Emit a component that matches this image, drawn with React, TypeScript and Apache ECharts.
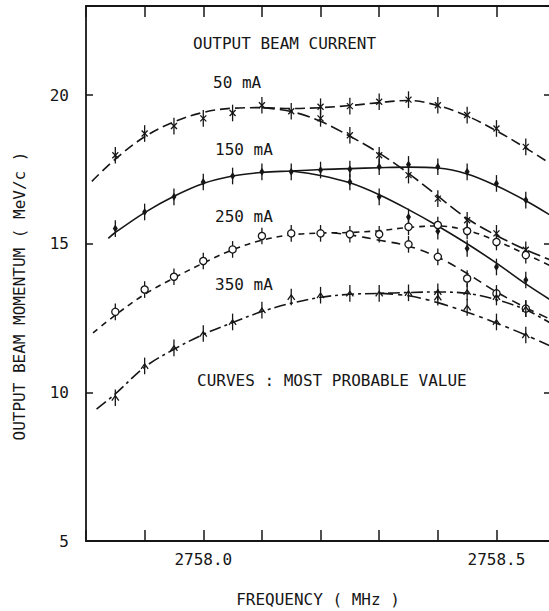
import React, { useEffect, useRef } from "react";
import * as echarts from "echarts";

// ---------- data ----------
const FREQ_POINTS = [2757.85, 2757.9, 2757.95, 2758.0, 2758.05, 2758.1, 2758.15, 2758.2, 2758.25, 2758.3, 2758.35, 2758.4, 2758.45, 2758.5, 2758.55];
const X_TICK_LABELS = ["2758.0", "2758.5"];
const Y_TICK_LABELS = [5, 10, 15, 20];

// measured points (upper branch, aligned with FREQ_POINTS)
const P50_UPPER = [17.98, 18.71, 18.96, 19.22, 19.4, 19.66, 19.46, 19.61, 19.63, 19.78, 19.85, 19.66, 19.33, 18.88, 18.26];
const P150_UPPER = [15.51, 16.07, 16.58, 17.08, 17.28, 17.42, 17.42, 17.48, 17.51, 17.59, 17.67, 17.59, 17.42, 17.03, 16.47];
const P250_UPPER = [12.71, 13.46, 13.89, 14.42, 14.81, 15.26, 15.35, 15.35, 15.32, 15.32, 15.57, 15.63, 15.43, 15.06, 14.62];
const P350_UPPER = [9.82, 10.89, 11.5, 11.98, 12.37, 12.77, 13.21, 13.27, 13.33, 13.33, 13.35, 13.38, 13.38, 13.21, 12.82];

// measured points (lower branch)
const P50_LOWER: [number, number][] = [[2758.2, 19.22], [2758.25, 18.65], [2758.3, 17.98], [2758.35, 17.31], [2758.4, 16.52], [2758.45, 15.79], [2758.5, 15.35], [2758.55, 14.8]];
const P150_LOWER: [number, number][] = [[2758.25, 17.08], [2758.3, 16.58], [2758.35, 15.9], [2758.4, 15.42], [2758.45, 14.84], [2758.5, 14.22], [2758.55, 13.78]];
const P250_LOWER: [number, number][] = [[2758.35, 14.98], [2758.4, 14.56], [2758.45, 13.83], [2758.5, 13.33], [2758.55, 12.82]];
const P350_LOWER: [number, number][] = [[2758.4, 13.2], [2758.45, 12.86], [2758.5, 12.37], [2758.55, 11.93]];

const ERROR_HALF = 0.28;

// most probable value curves
const CURVE_50_UPPER: [number, number][] = [[2757.81, 17.1], [2757.85, 17.85], [2757.9, 18.6], [2757.95, 19.1], [2758.0, 19.42], [2758.05, 19.56], [2758.1, 19.58], [2758.15, 19.55], [2758.2, 19.58], [2758.25, 19.65], [2758.3, 19.75], [2758.35, 19.82], [2758.4, 19.65], [2758.45, 19.3], [2758.5, 18.8], [2758.55, 18.22], [2758.593, 17.68]];
const CURVE_50_LOWER: [number, number][] = [[2758.1, 19.58], [2758.15, 19.45], [2758.2, 19.12], [2758.25, 18.62], [2758.3, 18.05], [2758.35, 17.37], [2758.4, 16.6], [2758.45, 15.85], [2758.5, 15.28], [2758.55, 14.8], [2758.593, 14.45]];
const CURVE_150_UPPER: [number, number][] = [[2757.838, 15.18], [2757.85, 15.38], [2757.9, 16.05], [2757.95, 16.6], [2758.0, 17.03], [2758.05, 17.28], [2758.1, 17.4], [2758.15, 17.45], [2758.2, 17.5], [2758.25, 17.53], [2758.3, 17.56], [2758.35, 17.58], [2758.4, 17.55], [2758.45, 17.35], [2758.5, 16.95], [2758.55, 16.45], [2758.593, 15.95]];
const CURVE_150_LOWER: [number, number][] = [[2758.15, 17.45], [2758.2, 17.3], [2758.25, 17.05], [2758.3, 16.65], [2758.35, 16.15], [2758.4, 15.6], [2758.45, 15.0], [2758.5, 14.35], [2758.55, 13.65], [2758.593, 13.1]];
const CURVE_250_UPPER: [number, number][] = [[2757.812, 12.0], [2757.85, 12.6], [2757.9, 13.3], [2757.95, 13.85], [2758.0, 14.35], [2758.05, 14.8], [2758.1, 15.12], [2758.15, 15.3], [2758.2, 15.36], [2758.25, 15.38], [2758.3, 15.44], [2758.35, 15.55], [2758.4, 15.6], [2758.45, 15.45], [2758.5, 15.1], [2758.55, 14.65], [2758.593, 14.25]];
const CURVE_250_LOWER: [number, number][] = [[2758.22, 15.37], [2758.25, 15.3], [2758.3, 15.12], [2758.35, 14.92], [2758.4, 14.55], [2758.45, 14.0], [2758.5, 13.38], [2758.55, 12.85], [2758.593, 12.45]];
const CURVE_350_UPPER: [number, number][] = [[2757.818, 9.44], [2757.85, 9.95], [2757.9, 10.85], [2757.95, 11.45], [2758.0, 11.95], [2758.05, 12.35], [2758.1, 12.72], [2758.15, 13.0], [2758.2, 13.2], [2758.25, 13.3], [2758.3, 13.33], [2758.35, 13.36], [2758.4, 13.38], [2758.45, 13.33], [2758.5, 13.12], [2758.55, 12.78], [2758.593, 12.32]];
const CURVE_350_LOWER: [number, number][] = [[2758.3, 13.33], [2758.35, 13.25], [2758.4, 13.02], [2758.45, 12.7], [2758.5, 12.33], [2758.55, 11.93], [2758.593, 11.55]];

const CURRENT_LABELS = ["50 mA", "150 mA", "250 mA", "350 mA"];

// ---------- style ----------
const INK = "#161616";
const FONT = "'DejaVu Sans Mono', monospace";
const FS = 16;

type MarkKind = "cross" | "diamond" | "circle" | "triangle";

function markerSeries(name: string, data: [number, number][], kind: MarkKind) {
  return {
    type: "custom",
    name,
    data,
    encode: { x: 0, y: 1 },
    z: 5,
    renderItem: (_params: any, api: any) => {
      const x = api.value(0);
      const y = api.value(1);
      const p = api.coord([x, y]);
      const t = api.coord([x, y + ERROR_HALF]);
      const b = api.coord([x, y - ERROR_HALF]);
      const children: any[] = [
        { type: "line", shape: { x1: p[0], y1: t[1], x2: p[0], y2: b[1] }, style: { stroke: INK, lineWidth: 1.3 } },
      ];
      if (kind === "cross") {
        children.push({ type: "line", shape: { x1: p[0] - 3, y1: p[1] - 3, x2: p[0] + 3, y2: p[1] + 3 }, style: { stroke: INK, lineWidth: 1.3 } });
        children.push({ type: "line", shape: { x1: p[0] - 3, y1: p[1] + 3, x2: p[0] + 3, y2: p[1] - 3 }, style: { stroke: INK, lineWidth: 1.3 } });
      } else if (kind === "diamond") {
        children.push({ type: "polygon", shape: { points: [[p[0], p[1] - 4], [p[0] + 2.5, p[1]], [p[0], p[1] + 4], [p[0] - 2.5, p[1]]] }, style: { fill: INK } });
      } else if (kind === "circle") {
        children.push({ type: "circle", shape: { cx: p[0], cy: p[1], r: 3.6 }, style: { fill: "#fff", stroke: INK, lineWidth: 1.3 } });
      } else {
        children.push({ type: "polyline", shape: { points: [[p[0] - 3.5, p[1] + 3], [p[0], p[1] - 2], [p[0] + 3.5, p[1] + 3]] }, style: { fill: "none", stroke: INK, lineWidth: 1.3 } });
      }
      return { type: "group", children };
    },
  };
}

function curveSeries(name: string, data: [number, number][], dash: any) {
  return {
    type: "line",
    name,
    data,
    smooth: 0.35,
    showSymbol: false,
    symbol: "none",
    z: 3,
    lineStyle: { color: INK, width: 1.6, type: dash },
  };
}

const zip = (vals: number[]): [number, number][] => vals.map((v, i) => [FREQ_POINTS[i], v]);

export default function App() {
  const ref = useRef<HTMLDivElement>(null);
  useEffect(() => {
    document.body.style.margin = "0";
    const chart = echarts.init(ref.current!, undefined, { renderer: "svg" });
    const xCommon = {
      type: "value",
      min: 2757.8,
      max: 2758.593,
      interval: 0.1,
      splitLine: { show: false },
      axisLine: { show: true, lineStyle: { color: INK, width: 1.8 } },
      axisTick: { show: true, inside: true, length: 11, lineStyle: { color: INK, width: 1.5 } },
    };
    const yCommon = {
      type: "value",
      min: 5,
      max: 23,
      interval: 5,
      splitLine: { show: false },
      axisLine: { show: true, lineStyle: { color: INK, width: 1.8 } },
      axisTick: { show: true, inside: true, length: 7, lineStyle: { color: INK, width: 1.5 } },
    };
    const textStyle = (text: string, x: number, y: number, extra: any = {}) => ({
      type: "text",
      x,
      y,
      ...extra,
      style: { text, fill: INK, font: `${FS}px ${FONT}`, align: "left", verticalAlign: "middle", ...(extra.style || {}) },
    });
    chart.setOption({
      animation: false,
      backgroundColor: "#fff",
      grid: { left: 86, top: 6, width: 465, height: 535, containLabel: false, outerBoundsMode: "none" },
      xAxis: [
        {
          ...xCommon,
          position: "bottom",
          axisLabel: {
            show: true,
            margin: 10,
            color: INK,
            fontFamily: FONT,
            fontSize: FS,
            formatter: (v: number) => {
              const s = v.toFixed(1);
              return X_TICK_LABELS.includes(s) ? s : "";
            },
          },
        },
        { ...xCommon, position: "top", axisLabel: { show: false } },
      ],
      yAxis: [
        {
          ...yCommon,
          position: "left",
          axisLabel: {
            show: true,
            margin: 17,
            color: INK,
            fontFamily: FONT,
            fontSize: FS,
            formatter: (v: number) => (Y_TICK_LABELS.includes(v) ? String(v) : ""),
          },
        },
        { ...yCommon, position: "right", axisLabel: { show: false } },
      ],
      graphic: [
        textStyle("OUTPUT BEAM CURRENT", 193, 43),
        textStyle(CURRENT_LABELS[0], 213, 82),
        textStyle(CURRENT_LABELS[1], 215, 149),
        textStyle(CURRENT_LABELS[2], 215, 216),
        textStyle(CURRENT_LABELS[3], 215, 284),
        textStyle("CURVES : MOST PROBABLE VALUE", 197, 380),
        textStyle("FREQUENCY ( MHz )", 318, 599, { style: { align: "center" } }),
        textStyle("OUTPUT BEAM MOMENTUM ( MeV/c )", 19, 296, { rotation: Math.PI / 2, style: { align: "center" } }),
      ],
      series: [
        curveSeries("50 mA", CURVE_50_UPPER, [10, 5]),
        curveSeries("50 mA lower", CURVE_50_LOWER, [13, 5]),
        curveSeries("150 mA", CURVE_150_UPPER, "solid"),
        curveSeries("150 mA lower", CURVE_150_LOWER, "solid"),
        curveSeries("250 mA", CURVE_250_UPPER, [6, 5]),
        curveSeries("250 mA lower", CURVE_250_LOWER, [9, 6]),
        curveSeries("350 mA", CURVE_350_UPPER, [12, 4, 3, 4]),
        curveSeries("350 mA lower", CURVE_350_LOWER, [14, 5, 4, 5]),
        markerSeries("50 mA pts", zip(P50_UPPER), "cross"),
        markerSeries("50 mA pts lower", P50_LOWER, "cross"),
        markerSeries("150 mA pts", zip(P150_UPPER), "diamond"),
        markerSeries("150 mA pts lower", P150_LOWER, "diamond"),
        markerSeries("250 mA pts", zip(P250_UPPER), "circle"),
        markerSeries("250 mA pts lower", P250_LOWER, "circle"),
        markerSeries("350 mA pts", zip(P350_UPPER), "triangle"),
        markerSeries("350 mA pts lower", P350_LOWER, "triangle"),
      ],
    });
    return () => chart.dispose();
  }, []);
  return <div ref={ref} style={{ width: 549, height: 611 }} />;
}
